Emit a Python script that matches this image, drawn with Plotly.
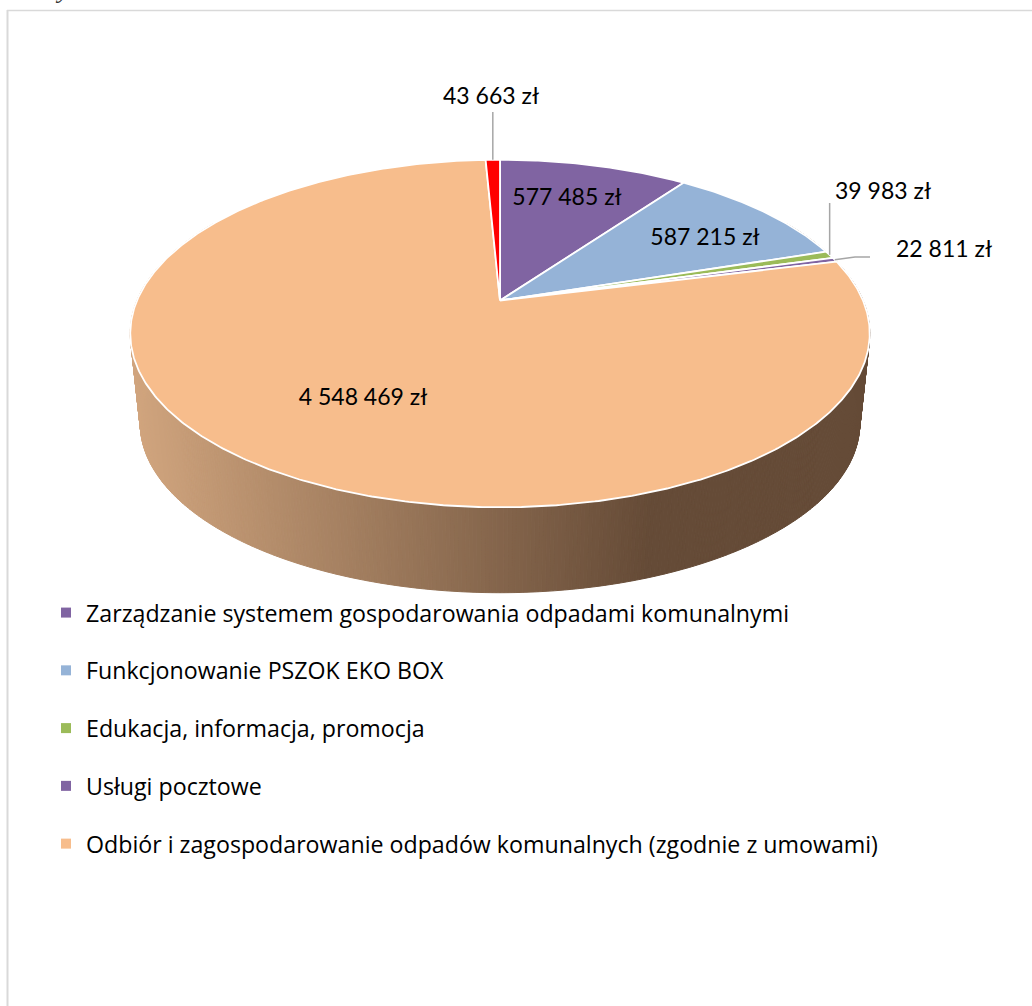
import numpy as np
import plotly.graph_objects as go

# ---- data ----
CATEGORIES = [
    "Zarządzanie systemem gospodarowania odpadami komunalnymi",
    "Funkcjonowanie PSZOK EKO BOX",
    "Edukacja, informacja, promocja",
    "Usługi pocztowe",
    "Odbiór i zagospodarowanie odpadów komunalnych (zgodnie z umowami)",
    "",
]
VALUES = [577485, 587215, 39983, 22811, 4548469, 43663]
COLORS = ["#8064A2", "#95B3D7", "#9BBB59", "#8064A2", "#F7BD8C", "#FF0000"]
LABEL_X = [567, 705, 883, 944, 363, 491]
LABEL_Y = [199, 239, 193, 251, 399, 98]

# ---- style / geometry ----
LABEL_FONT = "Lato"
LEGEND_FONT = "Open Sans"
LABEL_SIZE = 23
LEGEND_SIZE = 23.2
CX, CY = 500.0, 300.5      # apex of the pie in the picture
AX, KY, P = 363.0, 167.5, 0.19    # perspective of the top face
SCALE, Y_LOW = 0.973, 391.5       # lower rim
SIDE_LIGHT = np.array([210, 166, 127])
SIDE_DARK = np.array([101, 75, 55])
GRAD_X0, GRAD_X1 = 131.0, 650.0


def project(theta, r=1.0, cy=CY, s=1.0):
    u, v = r * np.sin(theta), r * np.cos(theta)
    d = 1 + P * v
    return CX + s * AX * u / d, cy - s * KY * v / d


def side_colour(x):
    t = np.clip((x - GRAD_X0) / (GRAD_X1 - GRAD_X0), 0, 1)
    c = SIDE_LIGHT + (SIDE_DARK - SIDE_LIGHT) * t
    return "rgb(%d,%d,%d)" % tuple(c)


def fmt(v):
    return f"{v:,}".replace(",", " ") + " zł"


fig = go.Figure()

# side wall: thin strips between the upper and the lower rim
edges = np.radians(np.arange(60, 300.01, 0.5))
for a, b in zip(edges[:-1], edges[1:]):
    t = np.array([a, b])
    x1, y1 = project(t)
    x2, y2 = project(t[::-1], cy=Y_LOW, s=SCALE)
    col = side_colour((x1.mean() + x2.mean()) / 2)
    fig.add_trace(go.Scatter(
        x=np.r_[x1, x2, x1[0]], y=np.r_[y1, y2, y1[0]],
        mode="lines", fill="toself", fillcolor=col,
        line=dict(color=col, width=1), hoverinfo="skip", showlegend=False))

# top face slices
total = sum(VALUES)
bounds = np.r_[0, np.cumsum(VALUES)] / total * 2 * np.pi
for i, (val, col) in enumerate(zip(VALUES, COLORS)):
    t = np.linspace(bounds[i], bounds[i + 1], max(3, int(np.degrees(bounds[i + 1] - bounds[i]) * 2)))
    x, y = project(t)
    fig.add_trace(go.Scatter(
        x=np.r_[CX, x, CX], y=np.r_[CY, y, CY],
        mode="lines", fill="toself", fillcolor=col,
        line=dict(color="white", width=1.8),
        name=fmt(val), hoverinfo="name", showlegend=False))

# legend keys
for name, col in zip(CATEGORIES, COLORS):
    if not name:
        continue
    fig.add_trace(go.Scatter(
        x=[None], y=[None], mode="markers", name=name, legendgroup=name,
        marker=dict(symbol="square", size=10, color=col)))

# leader lines for the outside labels
mid = (bounds[:-1] + bounds[1:]) / 2
LEADER_COLOR = "#A6A6A6"
for idx, points in [(5, [(None, 112)]), (2, [(None, 203)]), (3, [(855, 257), (870, 257)])]:
    x0, y0 = project(mid[idx])
    xs, ys = [x0], [y0]
    for px, py in points:
        xs.append(x0 if px is None else px)
        ys.append(py)
    fig.add_trace(go.Scatter(x=xs, y=ys, mode="lines", hoverinfo="skip", showlegend=False,
                             line=dict(color=LEADER_COLOR, width=1.5)))

# value labels
fig.add_trace(go.Scatter(
    x=LABEL_X, y=LABEL_Y, mode="text", text=[fmt(v) for v in VALUES],
    textposition="middle center", hoverinfo="skip", showlegend=False,
    textfont=dict(family=LABEL_FONT, size=LABEL_SIZE, color="black")))

fig.update_layout(
    width=1032, height=1006, margin=dict(l=0, r=0, t=0, b=0),
    paper_bgcolor="white", plot_bgcolor="white",
    xaxis=dict(range=[0, 1032], visible=False, fixedrange=True),
    yaxis=dict(range=[1006, 0], visible=False, fixedrange=True),
    showlegend=True,
    legend=dict(x=46 / 1032, y=1 - 591 / 1006, xanchor="left", yanchor="top",
                bgcolor="rgba(0,0,0,0)", tracegroupgap=24.6, itemwidth=30,
                traceorder="grouped", font=dict(family=LEGEND_FONT, size=LEGEND_SIZE, color="black")),
    shapes=[
        dict(type="line", xref="x", yref="y", x0=7.5, x1=7.5, y0=10, y1=1006,
             line=dict(color="#D9D9D9", width=2)),
        dict(type="line", xref="x", yref="y", x0=7, x1=1032, y0=10.5, y1=10.5,
             line=dict(color="#D9D9D9", width=1.5)),
    ],
    annotations=[dict(x=62 / 1032, y=1, xref="paper", yref="paper", xanchor="center", yanchor="bottom",
                      yshift=-6, text="<i>y</i>", showarrow=False,
                      font=dict(family="Liberation Serif", size=26, color="#333333"))],
)

fig.write_html("out.html", config={"displayModeBar": False},
               post_script="document.body.style.margin='0';document.documentElement.style.overflow='hidden';")
